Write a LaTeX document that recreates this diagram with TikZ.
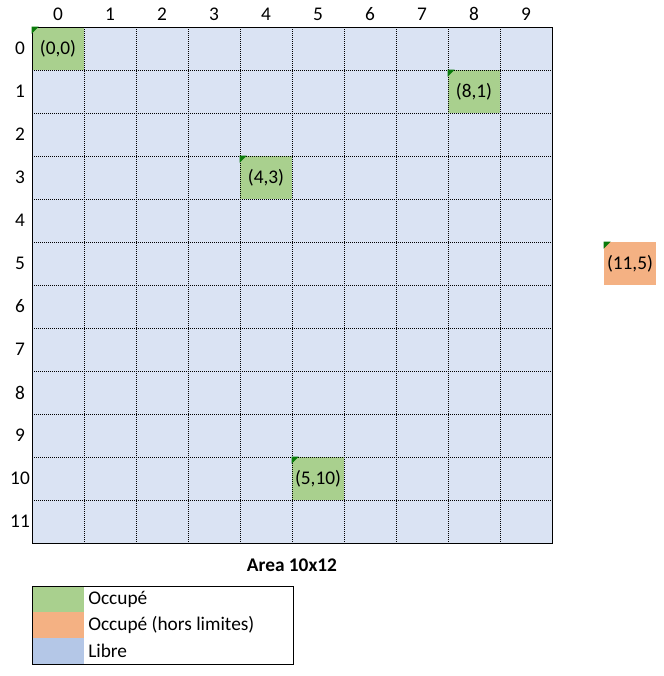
\documentclass[tikz,border=0pt]{standalone}
\usepackage{fontspec}
\setmainfont{Carlito}
\definecolor{libre}{HTML}{DAE3F3}
\definecolor{occupe}{HTML}{A9D08E}
\definecolor{horslim}{HTML}{F4B183}
\definecolor{librekey}{HTML}{B4C7E7}
\definecolor{marque}{HTML}{0A7A0A}
\tikzset{
  cell/.style={minimum width=39pt, minimum height=32.25pt, inner sep=0pt, fill=#1},
  gridline/.style={line width=0.75pt, dash pattern=on 0.75pt off 0.75pt},
  swatch/.style={minimum width=39pt, minimum height=19.5pt, inner sep=0pt, anchor=north west, fill=#1}
}
\newcommand{\marker}[1]{\fill[marque] (#1.north west) -- ++(7,0) -- ++(-7,7) -- cycle;}
\begin{document}
\begin{tikzpicture}[x=0.75pt,y=-0.75pt,font=\fontsize{14.5}{17}\selectfont]
\useasboundingbox (0,0) rectangle (664,676);
% area
\fill[libre] (32,27) rectangle (552,543);
\node[cell=occupe] (c00) at (58,48.5) {(0,0)};
\node[cell=occupe] (c81) at (474,91.5) {(8,1)};
\node[cell=occupe] (c43) at (266,177.5) {(4,3)};
\node[cell=occupe] (c510) at (318,478.5) {(5,10)};
\node[cell=horslim] (c115) at (630,263.5) {(11,5)};
\foreach \c in {1,...,9} \draw[gridline] ({32+52*\c},27) -- ({32+52*\c},543);
\foreach \r in {1,...,11} \draw[gridline] (32,{27+43*\r}) -- (552,{27+43*\r});
\draw[line width=0.75pt] (32,27) rectangle (552,543);
\marker{c00} \marker{c81} \marker{c43} \marker{c510} \marker{c115}
% axes
\foreach \c in {0,...,9} \node (col\c) at ({58+52*\c},14) {\c};
\foreach \r in {0,...,11} \node (row\r) at (20,{48.5+43*\r}) {\r};
\node[font=\fontsize{14.5}{17}\selectfont\bfseries] (titre) at (292,565) {Area 10x12};
% legend
\node[swatch=occupe] (k1) at (32,586) {};
\node[swatch=horslim] (k2) at (32,612) {};
\node[swatch=librekey] (k3) at (32,638) {};
\node[anchor=west, inner sep=0pt] (t1) at (88,599) {Occupé};
\node[anchor=west, inner sep=0pt] (t2) at (88,625) {Occupé (hors limites)};
\node[anchor=west, inner sep=0pt] (t3) at (88,651) {Libre};
\draw[line width=0.75pt] (32,586) rectangle (293,664);
\end{tikzpicture}
\end{document}
